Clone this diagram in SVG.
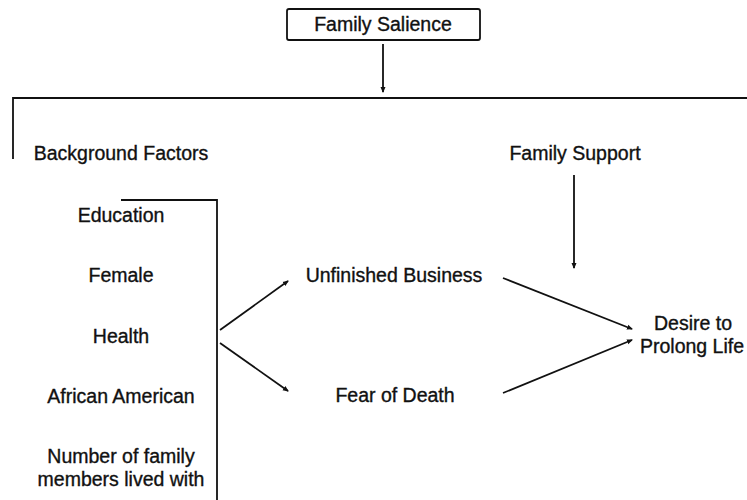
<svg xmlns="http://www.w3.org/2000/svg" width="747" height="500" viewBox="0 0 747 500">
<style>
text{font-family:"Liberation Sans",Arial,sans-serif;font-size:19.5px;fill:#111;stroke:#111;stroke-width:0.35;text-anchor:middle}
.ln{stroke:#111;stroke-width:1.8;fill:none}
.ar{stroke:#111;stroke-width:1.8;fill:none;marker-end:url(#ah)}
</style>
<defs>
<marker id="ah" markerUnits="userSpaceOnUse" markerWidth="8" markerHeight="8" refX="5" refY="3.5" orient="auto">
<path d="M0,1 L6,3.5 L0,6 z" fill="#111"/>
</marker>
</defs>
<g id="family-salience">
<rect x="287" y="9" width="193" height="31" rx="2" class="ln"/>
<text x="383" y="31">Family Salience</text>
</g>
<g id="background-factors">
<text x="121" y="160">Background Factors</text>
</g>
<g id="family-support">
<text x="575" y="160">Family Support</text>
</g>
<g id="factors-list">
<text x="121" y="222">Education</text>
<text x="121" y="282">Female</text>
<text x="121" y="343">Health</text>
<text x="121" y="403">African American</text>
<text x="121" y="463">Number of family</text>
<text x="121" y="486">members lived with</text>
</g>
<g id="unfinished-business">
<text x="394" y="282">Unfinished Business</text>
</g>
<g id="fear-of-death">
<text x="395" y="402">Fear of Death</text>
</g>
<g id="desire-to-prolong-life">
<text x="693" y="330">Desire to</text>
<text x="692" y="353">Prolong Life</text>
</g>
<g id="connectors">
<line x1="383" y1="44" x2="383" y2="92" class="ar"/>
<polyline points="13,159 13,98 747,98" class="ln"/>
<polyline points="121,200 217,200 217,500" class="ln"/>
<line x1="574" y1="175" x2="574" y2="268" class="ar"/>
<line x1="220" y1="330" x2="288" y2="281" class="ar"/>
<line x1="220" y1="343" x2="288" y2="391" class="ar"/>
<line x1="503" y1="278" x2="632" y2="329" class="ar"/>
<line x1="503" y1="393" x2="632" y2="340" class="ar"/>
</g>
</svg>
